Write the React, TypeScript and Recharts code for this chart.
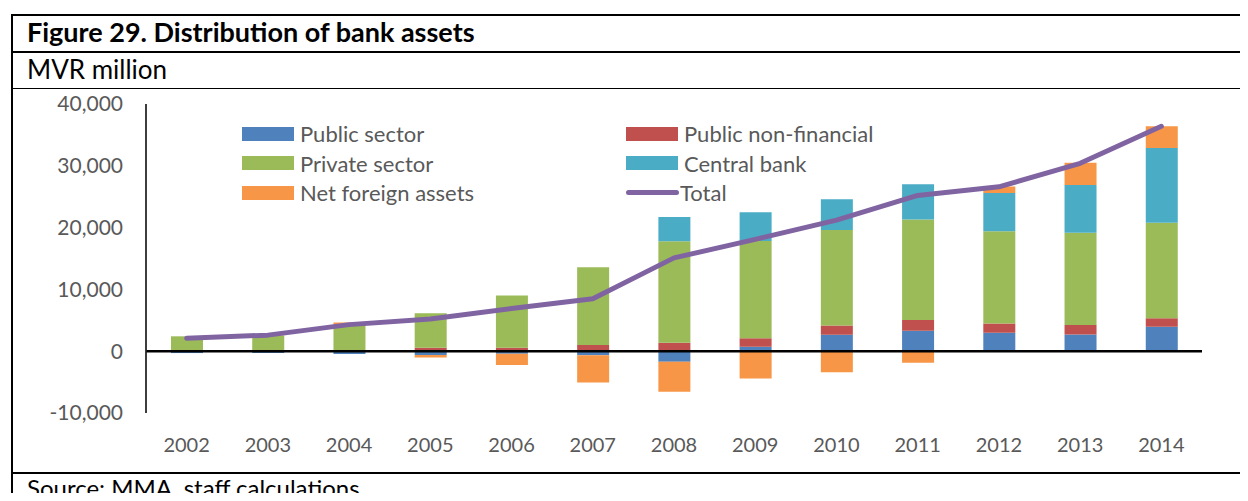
import React from "react";
import {
  ComposedChart,
  Bar,
  Line,
  XAxis,
  YAxis,
  ReferenceLine,
  Legend,
} from "recharts";

// MVR million
const years = ["2002", "2003", "2004", "2005", "2006", "2007", "2008", "2009", "2010", "2011", "2012", "2013", "2014"];
const publicSector = [-300, -300, -450, -600, -400, -650, -1700, 700, 2650, 3300, 3000, 2700, 3950];
const publicNonFinancial = [30, 50, 100, 550, 550, 1000, 1350, 1400, 1500, 1750, 1500, 1550, 1400];
const privateSector = [2380, 2430, 4160, 5600, 8450, 12600, 16450, 15750, 15450, 16250, 14900, 14900, 15450];
const centralBank = [0, 0, 0, 0, 0, 0, 3900, 4650, 5000, 5700, 6200, 7750, 12100];
const netForeignAssets = [0, 100, 400, -400, -1850, -4400, -4850, -4400, -3400, -1850, 1050, 3600, 3500];
const total = [2100, 2600, 4300, 5200, 6900, 8500, 15100, 18100, 21200, 25200, 26600, 30400, 36400];

const yTicks = [-10000, 0, 10000, 20000, 30000, 40000];
const seriesNames = ["Public sector", "Public non-financial", "Private sector", "Central bank", "Net foreign assets", "Total"];

const data = years.map((year, i) => ({
  year,
  publicSector: publicSector[i],
  publicNonFinancial: publicNonFinancial[i],
  privateSector: privateSector[i],
  centralBank: centralBank[i],
  netForeignAssets: netForeignAssets[i],
  total: total[i],
}));

const FONT = "Lato, 'Open Sans', sans-serif";
const GREY = "#595959";

// two columns, filled row by row in the series order
function LegendBox({ payload }: any) {
  const items = [...(payload || [])].sort(
    (a: any, b: any) => seriesNames.indexOf(a.value) - seriesNames.indexOf(b.value)
  );
  return (
    <div
      style={{
        display: "grid",
        gridTemplateColumns: "384px 384px",
        gridAutoRows: "29.5px",
        fontFamily: FONT,
        fontSize: 22,
        color: GREY,
      }}
    >
      {items.map((entry: any) => (
        <div key={entry.value} style={{ display: "flex", alignItems: "center" }}>
          {entry.type === "line" ? (
            <div style={{ width: 53, height: 5, borderRadius: 3, background: entry.color, marginRight: 1 }} />
          ) : (
            <div style={{ width: 52, height: 14, background: entry.color, marginRight: 6 }} />
          )}
          <span>{entry.value}</span>
        </div>
      ))}
    </div>
  );
}

const hLine = (top: number, h: number): React.CSSProperties => ({
  position: "absolute",
  left: 12,
  right: 0,
  top,
  height: h,
  background: "#000",
});

export default function App() {
  return (
    <div
      style={{
        position: "relative",
        width: 1248,
        height: 501,
        margin: -8,
        overflow: "hidden",
        background: "#fff",
        fontFamily: FONT,
      }}
    >
      <div style={hLine(14, 2)} />
      <div style={hLine(51, 2)} />
      <div style={hLine(88, 1)} />
      <div style={hLine(472, 2)} />
      <div style={{ position: "absolute", left: 11, top: 14, width: 2, bottom: 0, background: "#000" }} />

      <div style={{ position: "absolute", left: 27, top: 16, fontSize: 27, lineHeight: 1.2, fontWeight: 700, color: "#000", whiteSpace: "nowrap" }}>
        Figure 29. Distribution of bank assets
      </div>
      <div style={{ position: "absolute", left: 27, top: 54, fontSize: 26, lineHeight: 1.2, color: "#000", whiteSpace: "nowrap" }}>
        MVR million
      </div>
      <div style={{ position: "absolute", left: 27, top: 474, fontSize: 24, lineHeight: 1.2, color: "#000", whiteSpace: "nowrap" }}>
        Source: MMA, staff calculations
      </div>

      <div style={{ position: "absolute", left: 0, top: 0 }}>
        <ComposedChart
          width={1248}
          height={501}
          data={data}
          stackOffset="sign"
          barSize={32}
          margin={{ top: 104, right: 46, bottom: 48, left: 46 }}
        >
          <XAxis
            dataKey="year"
            axisLine={false}
            tickLine={false}
            tickSize={0}
            tickMargin={25}
            height={40}
            tick={{ fill: GREY, fontSize: 20 }}
            interval={0}
          />
          <YAxis
            width={100}
            domain={[-10000, 40000]}
            ticks={yTicks}
            allowDataOverflow
            tickLine={false}
            tickSize={0}
            tickMargin={23}
            axisLine={{ stroke: "#222", strokeWidth: 1.75 }}
            tick={{ fill: GREY, fontSize: 21 }}
            tickFormatter={(v: number) => v.toLocaleString("en-US")}
          />
          <Legend
            layout="vertical"
            align="center"
            verticalAlign="middle"
            wrapperStyle={{ left: 242, top: 119, width: 768 }}
            content={<LegendBox />}
          />
          <Bar dataKey="publicSector" name={seriesNames[0]} stackId="a" fill="#4F81BD" legendType="rect" isAnimationActive={false} />
          <Bar dataKey="publicNonFinancial" name={seriesNames[1]} stackId="a" fill="#C0504D" legendType="rect" isAnimationActive={false} />
          <Bar dataKey="privateSector" name={seriesNames[2]} stackId="a" fill="#9BBB59" legendType="rect" isAnimationActive={false} />
          <Bar dataKey="centralBank" name={seriesNames[3]} stackId="a" fill="#4BACC6" legendType="rect" isAnimationActive={false} />
          <Bar dataKey="netForeignAssets" name={seriesNames[4]} stackId="a" fill="#F79646" legendType="rect" isAnimationActive={false} />
          <ReferenceLine y={0} stroke="#000" strokeWidth={2.5} />
          <Line
            dataKey="total"
            name={seriesNames[5]}
            type="linear"
            stroke="#8064A2"
            strokeWidth={5}
            strokeLinecap="round"
            strokeLinejoin="round"
            dot={false}
            activeDot={false}
            legendType="line"
            isAnimationActive={false}
          />
        </ComposedChart>
      </div>
    </div>
  );
}
